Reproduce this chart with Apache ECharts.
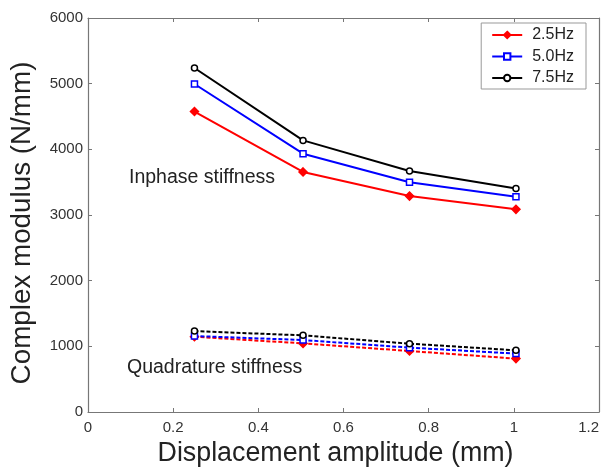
<!DOCTYPE html>
<html><head><meta charset="utf-8">
<script src="https://cdn.jsdelivr.net/npm/echarts@6/dist/echarts.min.js"></script>
<style>html,body{margin:0;padding:0;background:#fff}#c{width:602px;height:468px}</style>
</head><body><div id="c"></div>
<script>
var amplitude = [0.25, 0.505, 0.755, 1.005];
var seriesNames = ['2.5Hz', '5.0Hz', '7.5Hz'];
var inphase25 = [4576, 3656, 3288, 3086];
var inphase50 = [4995, 3934, 3500, 3277];
var inphase75 = [5238, 4136, 3671, 3404];
var quad25 = [1146, 1045, 929, 813];
var quad50 = [1157, 1096, 980, 889];
var quad75 = [1232, 1167, 1040, 939];
var xTicks = [0, 0.2, 0.4, 0.6, 0.8, 1, 1.2];
var yTicks = [0, 1000, 2000, 3000, 4000, 5000, 6000];

function pairs(vals){ return amplitude.map(function(x,i){ return [x, vals[i]]; }); }
var colors = ['#ff0000', '#0000ff', '#000000'];
var symbols = ['diamond', 'rect', 'circle'];
var inph = [inphase25, inphase50, inphase75];
var quad = [quad25, quad50, quad75];
var font = 'Liberation Sans, Arial, sans-serif';

var series = [];
for (var k = 0; k < 3; k++) {
  series.push({
    name: seriesNames[k], type: 'line', data: pairs(inph[k]),
    symbol: symbols[k], symbolSize: k === 0 ? 8 : 6,
    showAllSymbol: true,
    itemStyle: { color: k === 0 ? colors[k] : '#fff', borderColor: colors[k], borderWidth: 1.5 },
    lineStyle: { color: colors[k], width: 2 }, z: 3 + k
  });
}
for (var k = 0; k < 3; k++) {
  series.push({
    name: 'q' + seriesNames[k], type: 'line', data: pairs(quad[k]),
    symbol: symbols[k], symbolSize: k === 0 ? 8 : 6,
    itemStyle: { color: k === 0 ? colors[k] : '#fff', borderColor: colors[k], borderWidth: 1.5 },
    lineStyle: { color: colors[k], width: 2, type: [4, 2] }, z: 3 + k
  });
}

var chart = echarts.init(document.getElementById('c'));
var axisLineStyle = { color: '#777', width: 1.2 };
var tickStyle = { color: '#777', width: 1 };
function mkX(pos, labels) {
  return {
    type: 'value', min: 0, max: 1.2, interval: 0.2, position: pos,
    axisLine: { show: true, onZero: false, lineStyle: axisLineStyle },
    axisTick: { show: true, inside: true, length: 4, lineStyle: tickStyle },
    axisLabel: labels ? { show: true, fontSize: 15, color: '#333', margin: 8, fontFamily: font,
      alignMaxLabel: 'right',
      formatter: function(v){ return String(Math.round(v*10)/10); } } : { show: false },
    splitLine: { show: false }
  };
}
function mkY(pos, labels) {
  return {
    type: 'value', min: 0, max: 6000, interval: 1000, position: pos,
    axisLine: { show: true, onZero: false, lineStyle: axisLineStyle },
    axisTick: { show: true, inside: true, length: 4, lineStyle: tickStyle },
    axisLabel: labels ? { show: true, fontSize: 15, color: '#333', margin: 5, fontFamily: font,
      formatter: function(v){ return String(v); } } : { show: false },
    splitLine: { show: false }
  };
}
var xa = mkX('bottom', true);
xa.name = 'Displacement amplitude (mm)';
xa.nameLocation = 'middle'; xa.nameGap = 25;
xa.nameTextStyle = { fontSize: 26.8, color: '#222', fontFamily: font, padding: [0, 16, 0, 0] };
var ya = mkY('left', true);
ya.name = 'Complex modulus (N/mm)';
ya.nameLocation = 'middle'; ya.nameGap = 52;
ya.nameTextStyle = { fontSize: 27.8, color: '#222', fontFamily: font, padding: [0, 16, 0, 0] };

chart.setOption({
  animation: false,
  backgroundColor: '#fff',
  textStyle: { fontFamily: font },
  grid: { left: 88, right: 3, top: 18, bottom: 56, containLabel: false, outerBoundsMode: 'none' },
  legend: {
    data: seriesNames.map(function(n, i){ return { name: n }; }),
    orient: 'vertical', right: 16, top: 23,
    itemWidth: 30, itemHeight: 8, itemGap: 5.5,
    padding: [4, 12, 3, 10],
    borderColor: '#999', borderWidth: 1, backgroundColor: '#fff',
    textStyle: { fontSize: 16, lineHeight: 16, color: '#222', fontFamily: font, padding: [0, 0, 0, 5] }
  },
  xAxis: [xa, mkX('top', false)],
  yAxis: [ya, mkY('right', false)],
  graphic: [
    { type: 'text', left: 129, top: 168, style: { text: 'Inphase stiffness', fontSize: 19.5, fill: '#222', fontFamily: font } },
    { type: 'text', left: 127, top: 358, style: { text: 'Quadrature stiffness', fontSize: 19.5, fill: '#222', fontFamily: font } }
  ],
  series: series
});
</script></body></html>
